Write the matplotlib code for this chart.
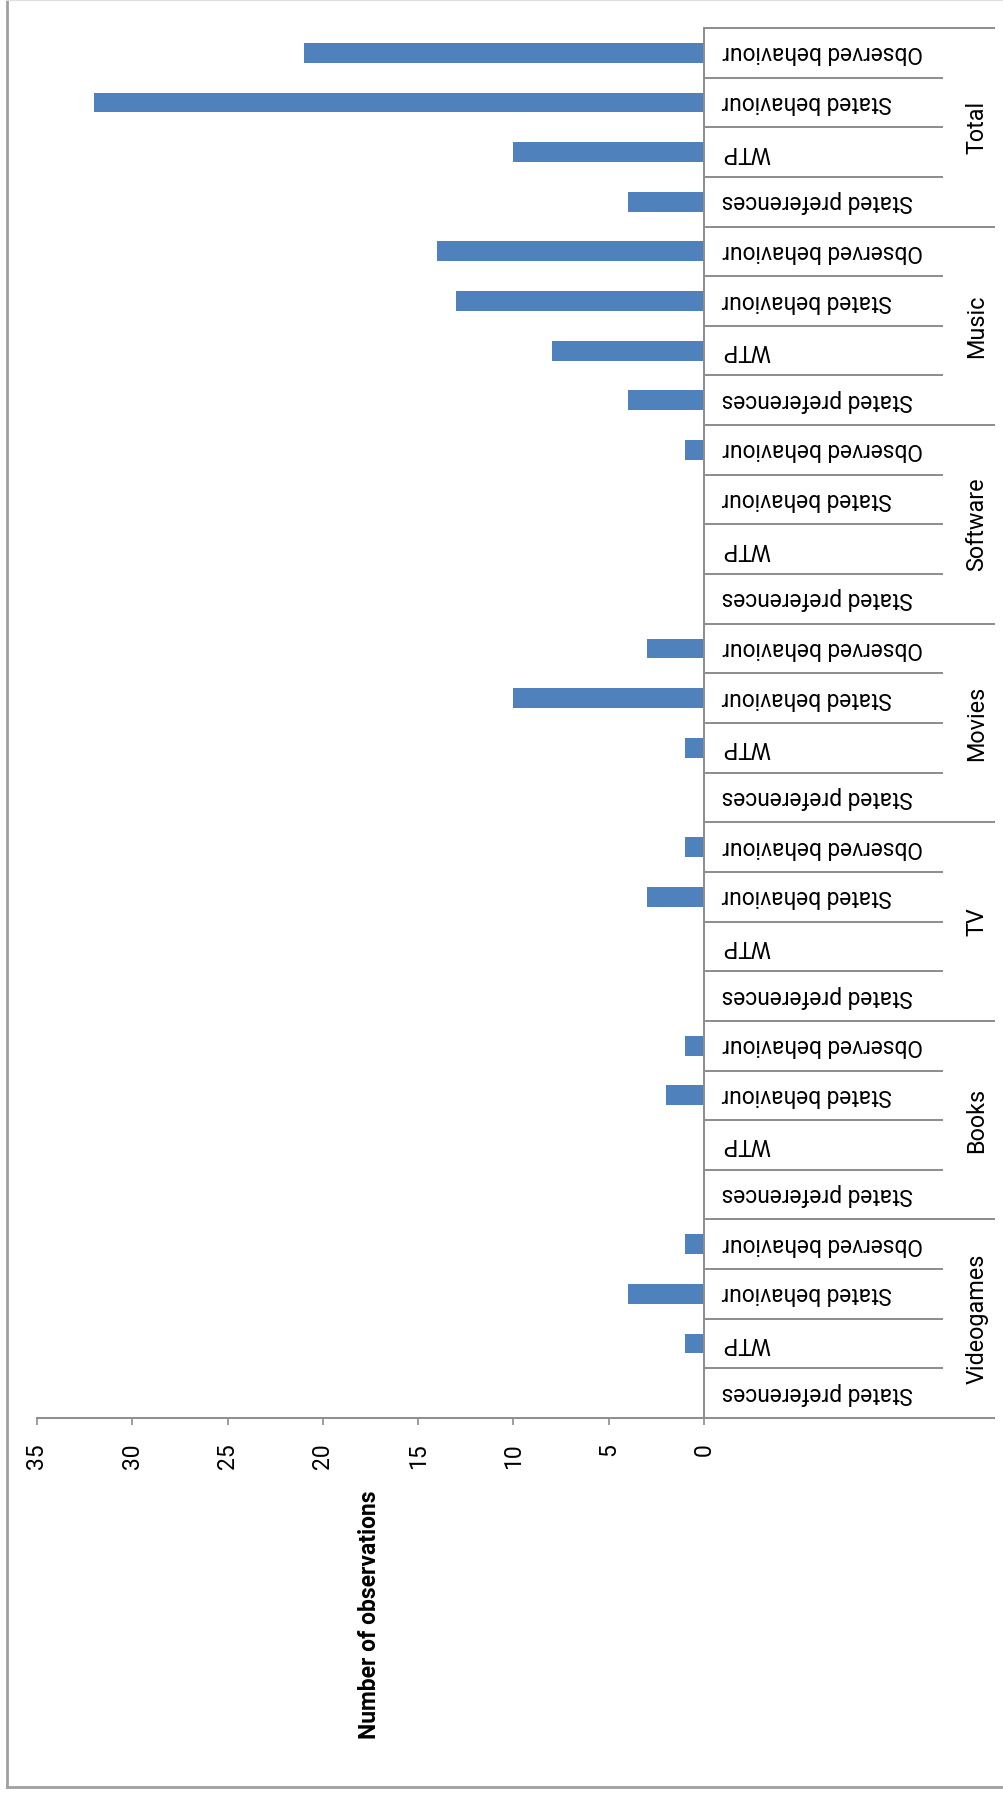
import matplotlib
matplotlib.use('Agg')
import matplotlib.pyplot as plt
import numpy as np

plt.rcParams['font.family'] = ['Roboto', 'DejaVu Sans']

# Media types (bottom to top) and the four evidence types inside each group
groups = ['Videogames', 'Books', 'TV', 'Movies', 'Software', 'Music', 'Total']
kinds = ['Stated preferences', 'WTP', 'Stated behaviour', 'Observed behaviour']

# Number of observations per group, ordered as in `kinds`
videogames = [0, 1, 4, 1]
books = [0, 0, 2, 1]
tv = [0, 0, 3, 1]
movies = [0, 1, 10, 3]
software = [0, 0, 0, 1]
music = [4, 8, 13, 14]
total = [4, 10, 32, 21]

value_ticks = [0, 5, 10, 15, 20, 25, 30, 35]

W, H = 1004, 1794
fig = plt.figure(figsize=(W / 100, H / 100), dpi=100)

# plot area in pixels: value axis 35 -> 0 from left to right
x_left, x_zero = 37, 704
y_top, y_axis = 28, 1418
ax = fig.add_axes([x_left / W, 1 - y_axis / H, (x_zero - x_left) / W, (y_axis - y_top) / H])

values = np.array(videogames + books + tv + movies + software + music + total)
pos = np.arange(len(values))
ax.barh(pos, values, height=0.4, color='#4F81BD')

ax.set_xlim(35, 0)
ax.set_ylim(-0.5, len(values) - 0.5)

grey = '#8c8c8c'
for s in ['top', 'left']:
    ax.spines[s].set_visible(False)
for s in ['bottom', 'right']:
    ax.spines[s].set_color(grey)
    ax.spines[s].set_linewidth(1.4)

ax.set_xticks(value_ticks)
ax.set_xticklabels([str(v) for v in value_ticks], rotation=90, fontsize=16.5)
ax.tick_params(axis='x', direction='out', length=5, width=1.2, color=grey, pad=13)
ax.set_yticks([])


def frac(xpx):
    # pixel column -> axes fraction
    return (xpx - x_left) / (x_zero - x_left)


tr = ax.get_yaxis_transform()

# separators between categories (short) and groups (long)
for i in range(len(values) + 1):
    end = 995 if i % 4 == 0 else 943
    ax.plot([1, frac(end)], [i - 0.5, i - 0.5], transform=tr, color=grey,
            lw=1.4, clip_on=False, solid_capstyle='butt')

# category labels, upside down
for i in range(len(values)):
    ax.text(frac(722), i, kinds[i % 4], transform=tr, rotation=180,
            ha='left', va='center', fontsize=16.4, color='black', clip_on=False)

# group labels
for g, name in enumerate(groups):
    ax.text(frac(977), g * 4 + 1.5, name, transform=tr, rotation=90,
            ha='center', va='center', fontsize=16.8, color='black', clip_on=False)

fig.text(370 / W, 1 - 1615 / H, 'Number of observations', rotation=90,
         ha='center', va='center', fontsize=16.5, fontweight='bold', color='black')

# chart frame
fig.add_artist(plt.Line2D([7.5 / W, 7.5 / W], [1 - 1787 / H, 1], color='#a0a0a0', lw=2))
fig.add_artist(plt.Line2D([7.5 / W, 1], [1 - 1787 / H, 1 - 1787 / H], color='#a0a0a0', lw=2))
fig.add_artist(plt.Line2D([7.5 / W, 1], [1 - 0.5 / H, 1 - 0.5 / H], color='#e0e0e0', lw=1.5))

fig.savefig('out.png', dpi=100)
